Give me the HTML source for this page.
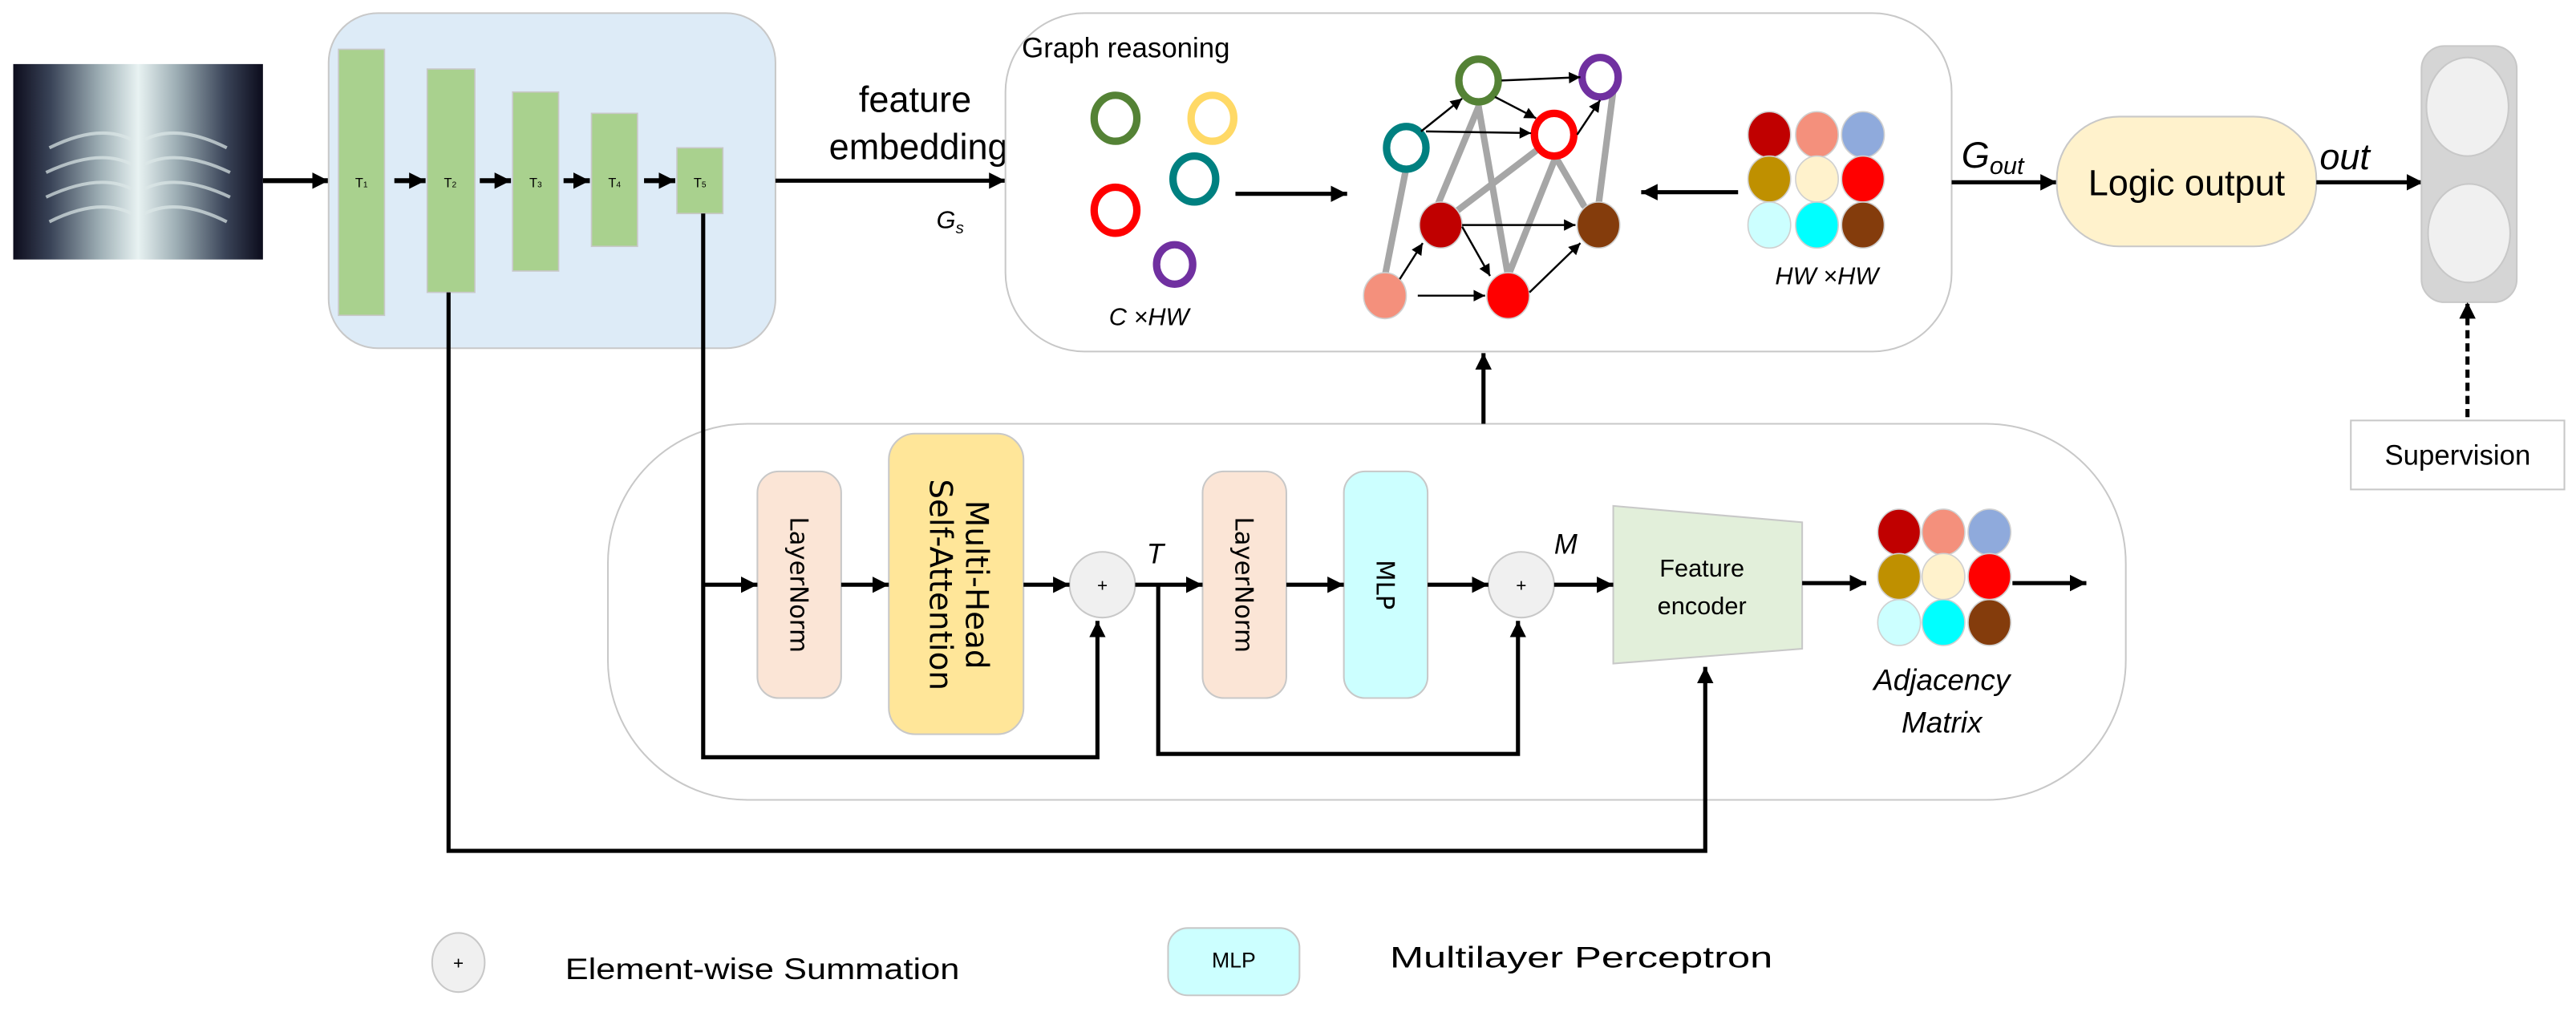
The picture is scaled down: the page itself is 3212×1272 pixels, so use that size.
<!DOCTYPE html>
<html><head><meta charset="utf-8"><style>
html,body{margin:0;padding:0;background:#fff;}
svg{display:block;}
text{font-family:"Liberation Sans",sans-serif;}
.dv{font-family:"DejaVu Sans","Liberation Sans",sans-serif;}
</style></head><body>
<svg width="3212" height="1272" viewBox="0 0 1568 621" xmlns="http://www.w3.org/2000/svg">
<defs>
<marker id="a" viewBox="0 0 10 10" refX="10" refY="5" markerWidth="10" markerHeight="12" markerUnits="userSpaceOnUse" orient="auto"><path d="M0,0 L10,5 L0,10 z" fill="#000"/></marker>
<marker id="s" viewBox="0 0 10 10" refX="10" refY="5" markerWidth="8" markerHeight="7" markerUnits="userSpaceOnUse" orient="auto"><path d="M0,0 L10,5 L0,10 z" fill="#000"/></marker>
<linearGradient id="xr" x1="0" x2="1" y1="0" y2="0">
<stop offset="0" stop-color="#0c0c1c"/><stop offset="0.15" stop-color="#3a4458"/><stop offset="0.35" stop-color="#9fb0b6"/><stop offset="0.5" stop-color="#e8f2f2"/><stop offset="0.65" stop-color="#9fb0b6"/><stop offset="0.85" stop-color="#3a4458"/><stop offset="1" stop-color="#0c0c1c"/>
</linearGradient>
</defs>

<!-- X-ray -->
<rect x="8" y="39" width="152" height="119" fill="url(#xr)"/>
<g stroke="#dde8e8" stroke-width="2" fill="none" opacity="0.7">
<path d="M30,90 Q60,75 80,85"/><path d="M28,105 Q60,90 80,100"/><path d="M28,120 Q60,105 80,115"/><path d="M30,135 Q60,120 80,130"/>
<path d="M138,90 Q108,75 88,85"/><path d="M140,105 Q108,90 88,100"/><path d="M140,120 Q108,105 88,115"/><path d="M138,135 Q108,120 88,130"/>
</g>
<line x1="160" y1="110" x2="200" y2="110" stroke="#000" stroke-width="3" marker-end="url(#a)"/>

<!-- Encoder block -->
<rect x="200" y="8" width="272" height="204" rx="30" fill="#DDEBF7" stroke="#c8c8c8" stroke-width="1"/>
<g fill="#A9D18E" stroke="#c8c8c8" stroke-width="0.8">
<rect x="206" y="30" width="28" height="162"/>
<rect x="260" y="42" width="29" height="136"/>
<rect x="312" y="56" width="28" height="109"/>
<rect x="360" y="69" width="28" height="81"/>
<rect x="412" y="90" width="28" height="40"/>
</g>
<g font-size="8" text-anchor="middle" fill="#000">
<text x="220" y="114">T<tspan font-size="5">1</tspan></text>
<text x="274" y="114">T<tspan font-size="5">2</tspan></text>
<text x="326" y="114">T<tspan font-size="5">3</tspan></text>
<text x="374" y="114">T<tspan font-size="5">4</tspan></text>
<text x="426" y="114">T<tspan font-size="5">5</tspan></text>
</g>
<g stroke="#000" stroke-width="3" marker-end="url(#a)">
<line x1="240" y1="110" x2="259" y2="110"/>
<line x1="292" y1="110" x2="311" y2="110"/>
<line x1="343" y1="110" x2="359" y2="110"/>
<line x1="392" y1="110" x2="411" y2="110"/>
</g>
<line x1="472" y1="110" x2="612" y2="110" stroke="#000" stroke-width="2.5" marker-end="url(#a)"/>
<text x="557" y="68" font-size="22" text-anchor="middle">feature</text>
<text x="559" y="97" font-size="22" text-anchor="middle">embedding</text>
<text x="570" y="139" font-size="15" font-style="italic">G<tspan font-size="10" dy="3">s</tspan></text>

<!-- Graph reasoning box -->
<rect x="612" y="8" width="576" height="206" rx="48" fill="#fff" stroke="#c8c8c8" stroke-width="1"/>
<text x="622" y="35" font-size="17">Graph reasoning</text>
<g fill="none" stroke-width="4.5">
<ellipse cx="679" cy="72" rx="13" ry="14" stroke="#548235"/>
<ellipse cx="738" cy="72" rx="13" ry="14" stroke="#FFD966"/>
<ellipse cx="727" cy="109" rx="13" ry="14" stroke="#008080"/>
<ellipse cx="679" cy="128" rx="13" ry="14" stroke="#FF0000"/>
<ellipse cx="715" cy="161" rx="11" ry="12" stroke="#7030A0"/>
</g>
<text x="675" y="198" font-size="15" font-style="italic">C ×HW</text>
<line x1="752" y1="118" x2="820" y2="118" stroke="#000" stroke-width="2.5" marker-end="url(#a)"/>
<line x1="1058" y1="117" x2="999" y2="117" stroke="#000" stroke-width="2.5" marker-end="url(#a)"/>

<!-- gray edges -->
<g stroke="#a6a6a6" stroke-width="4" stroke-linecap="round">
<line x1="856" y1="102" x2="843" y2="168"/>
<line x1="900" y1="65" x2="875" y2="125"/>
<line x1="900" y1="65" x2="918" y2="168"/>
<line x1="936" y1="91" x2="886" y2="129"/>
<line x1="946" y1="98" x2="918" y2="168"/>
<line x1="946" y1="94" x2="964" y2="125"/>
<line x1="982" y1="55" x2="973" y2="125"/>
</g>
<!-- nodes -->
<g fill="#fff" stroke-width="4.5">
<ellipse cx="900" cy="49" rx="12" ry="13" stroke="#548235"/>
<ellipse cx="974" cy="47" rx="11" ry="12" stroke="#7030A0"/>
<ellipse cx="856" cy="90" rx="12" ry="13" stroke="#008080"/>
<ellipse cx="946" cy="82" rx="12" ry="13" stroke="#FF0000"/>
</g>
<g stroke="#d0d0d0" stroke-width="0.8">
<ellipse cx="877" cy="137" rx="13" ry="14" fill="#C00000"/>
<ellipse cx="973" cy="137" rx="13" ry="14" fill="#843C0C"/>
<ellipse cx="843" cy="180" rx="13" ry="14" fill="#F4907C"/>
<ellipse cx="918" cy="180" rx="13" ry="14" fill="#FF0000"/>
</g>
<g stroke="#000" stroke-width="1.2" marker-end="url(#s)">
<line x1="865" y1="80" x2="890" y2="60"/>
<line x1="868" y1="80" x2="932" y2="81"/>
<line x1="910" y1="59" x2="935" y2="72"/>
<line x1="914" y1="49" x2="962" y2="47"/>
<line x1="960" y1="82" x2="974" y2="61"/>
<line x1="890" y1="137" x2="959" y2="137"/>
<line x1="890" y1="138" x2="907" y2="168"/>
<line x1="852" y1="170" x2="866" y2="148"/>
<line x1="863" y1="180" x2="904" y2="180"/>
<line x1="931" y1="178" x2="962" y2="148"/>
</g>
<!-- HWxHW matrix -->
<g stroke="#d0d0d0" stroke-width="0.8">
<ellipse cx="1077" cy="82" rx="13" ry="14" fill="#C00000"/>
<ellipse cx="1106" cy="82" rx="13" ry="14" fill="#F4907C"/>
<ellipse cx="1134" cy="82" rx="13" ry="14" fill="#8FAADC"/>
<ellipse cx="1077" cy="109" rx="13" ry="14" fill="#BF9000"/>
<ellipse cx="1106" cy="109" rx="13" ry="14" fill="#FFF2CC"/>
<ellipse cx="1134" cy="109" rx="13" ry="14" fill="#FF0000"/>
<ellipse cx="1077" cy="137" rx="13" ry="14" fill="#CCFFFF"/>
<ellipse cx="1106" cy="137" rx="13" ry="14" fill="#00FFFF"/>
<ellipse cx="1134" cy="137" rx="13" ry="14" fill="#843C0C"/>
</g>
<text x="1112" y="173" font-size="15" font-style="italic" text-anchor="middle">HW ×HW</text>

<!-- Right side -->
<line x1="1188" y1="111" x2="1252" y2="111" stroke="#000" stroke-width="2.5" marker-end="url(#a)"/>
<text x="1194" y="102" font-size="22" font-style="italic">G<tspan font-size="15" dy="4">out</tspan></text>
<rect x="1252" y="71" width="158" height="79" rx="38" fill="#FFF2CC" stroke="#c8c8c8" stroke-width="1"/>
<text x="1331" y="119" font-size="22" text-anchor="middle">Logic output</text>
<text x="1412" y="103" font-size="22" font-style="italic">out</text>
<line x1="1410" y1="111" x2="1475" y2="111" stroke="#000" stroke-width="2.5" marker-end="url(#a)"/>
<rect x="1474" y="28" width="58" height="156" rx="14" fill="#d5d5d5" stroke="#c8c8c8" stroke-width="1"/>
<ellipse cx="1502" cy="65" rx="25" ry="30" fill="#f0f0f0" stroke="#c8c8c8" stroke-width="1"/>
<ellipse cx="1503" cy="142" rx="25" ry="30" fill="#f0f0f0" stroke="#c8c8c8" stroke-width="1"/>
<line x1="1502" y1="262" x2="1502" y2="184" stroke="#000" stroke-width="2.5" stroke-dasharray="5,3" marker-end="url(#a)"/>
<rect x="1431" y="256" width="130" height="42" fill="#fff" stroke="#c8c8c8" stroke-width="1"/>
<text x="1496" y="283" font-size="17" text-anchor="middle">Supervision</text>

<!-- Bottom transformer block -->
<rect x="370" y="258" width="924" height="229" rx="85" fill="#fff" stroke="#c8c8c8" stroke-width="1"/>
<line x1="903" y1="258" x2="903" y2="215" stroke="#000" stroke-width="2.5" marker-end="url(#a)"/>
<rect x="461" y="287" width="51" height="138" rx="13" fill="#FBE5D6" stroke="#c8c8c8" stroke-width="1"/>
<rect x="541" y="264" width="82" height="183" rx="16" fill="#FFE699" stroke="#c8c8c8" stroke-width="1"/>
<rect x="732" y="287" width="51" height="138" rx="13" fill="#FBE5D6" stroke="#c8c8c8" stroke-width="1"/>
<rect x="818" y="287" width="51" height="138" rx="13" fill="#CCFFFF" stroke="#c8c8c8" stroke-width="1"/>
<text class="dv" font-size="15" text-anchor="middle" transform="translate(481,356) rotate(90)">LayerNorm</text>
<text class="dv" font-size="15" text-anchor="middle" transform="translate(752,356) rotate(90)">LayerNorm</text>
<text class="dv" font-size="15" text-anchor="middle" transform="translate(838,356) rotate(90)">MLP</text>
<text class="dv" font-size="19" text-anchor="middle" transform="translate(588,356) rotate(90)">Multi-Head</text>
<text class="dv" font-size="19" text-anchor="middle" transform="translate(566,356) rotate(90)">Self-Attention</text>
<ellipse cx="671" cy="356" rx="20" ry="20" fill="#f0f0f0" stroke="#c8c8c8" stroke-width="1"/>
<text x="671" y="360" font-size="11" text-anchor="middle">+</text>
<ellipse cx="926" cy="356" rx="20" ry="20" fill="#f0f0f0" stroke="#c8c8c8" stroke-width="1"/>
<text x="926" y="360" font-size="11" text-anchor="middle">+</text>
<text x="698" y="343" font-size="17" font-style="italic">T</text>
<text x="946" y="337" font-size="17" font-style="italic">M</text>
<polygon points="982,308 1097,318 1097,395 982,404" fill="#E2EFDA" stroke="#c8c8c8" stroke-width="1"/>
<text x="1036" y="351" font-size="15" text-anchor="middle">Feature</text>
<text x="1036" y="374" font-size="15" text-anchor="middle">encoder</text>

<!-- flow lines -->
<g stroke="#000" stroke-width="2.5" fill="none">
<polyline points="428,130 428,461 668,461 668,378" marker-end="url(#a)"/>
<line x1="428" y1="356" x2="461" y2="356" marker-end="url(#a)"/>
<line x1="512" y1="356" x2="541" y2="356" marker-end="url(#a)"/>
<line x1="623" y1="356" x2="651" y2="356" marker-end="url(#a)"/>
<line x1="691" y1="356" x2="732" y2="356" marker-end="url(#a)"/>
<polyline points="705,356 705,459 924,459 924,378" marker-end="url(#a)"/>
<line x1="783" y1="356" x2="818" y2="356" marker-end="url(#a)"/>
<line x1="869" y1="356" x2="906" y2="356" marker-end="url(#a)"/>
<line x1="946" y1="356" x2="982" y2="356" marker-end="url(#a)"/>
<polyline points="273,178 273,518 1038,518 1038,406" marker-end="url(#a)"/>
<line x1="1097" y1="355" x2="1136" y2="355" marker-end="url(#a)"/>
<line x1="1225" y1="355" x2="1270" y2="355" marker-end="url(#a)"/>
</g>
<!-- adjacency matrix -->
<g stroke="#d0d0d0" stroke-width="0.8">
<ellipse cx="1156" cy="324" rx="13" ry="14" fill="#C00000"/>
<ellipse cx="1183" cy="324" rx="13" ry="14" fill="#F4907C"/>
<ellipse cx="1211" cy="324" rx="13" ry="14" fill="#8FAADC"/>
<ellipse cx="1156" cy="351" rx="13" ry="14" fill="#BF9000"/>
<ellipse cx="1183" cy="351" rx="13" ry="14" fill="#FFF2CC"/>
<ellipse cx="1211" cy="351" rx="13" ry="14" fill="#FF0000"/>
<ellipse cx="1156" cy="379" rx="13" ry="14" fill="#CCFFFF"/>
<ellipse cx="1183" cy="379" rx="13" ry="14" fill="#00FFFF"/>
<ellipse cx="1211" cy="379" rx="13" ry="14" fill="#843C0C"/>
</g>
<text x="1182" y="420" font-size="18" font-style="italic" text-anchor="middle">Adjacency</text>
<text x="1182" y="446" font-size="18" font-style="italic" text-anchor="middle">Matrix</text>

<!-- legend -->
<ellipse cx="279" cy="586" rx="16" ry="18" fill="#f0f0f0" stroke="#c8c8c8" stroke-width="1"/>
<text x="279" y="590" font-size="11" text-anchor="middle">+</text>
<text x="344" y="596" font-size="18" textLength="240" lengthAdjust="spacingAndGlyphs">Element-wise Summation</text>
<rect x="711" y="565" width="80" height="41" rx="12" fill="#CCFFFF" stroke="#c8c8c8" stroke-width="1"/>
<text x="751" y="589" font-size="13" text-anchor="middle">MLP</text>
<text x="846" y="589" font-size="18" textLength="233" lengthAdjust="spacingAndGlyphs">Multilayer Perceptron</text>
</svg>
</body></html>
